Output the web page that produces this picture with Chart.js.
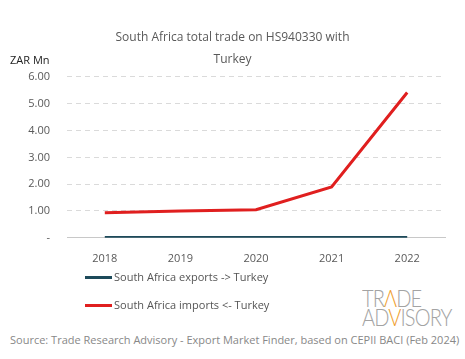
<!DOCTYPE html>
<html>
<head>
<meta charset="utf-8">
<script src="https://cdn.jsdelivr.net/npm/chart.js@4.4.1/dist/chart.umd.min.js"></script>
<style>
  html, body { margin: 0; padding: 0; background: #fff; }
  body { width: 465px; height: 359px; position: relative; overflow: hidden; font-family: "Open Sans", sans-serif; }
  #wrap { position: absolute; left: 0; top: 0; width: 465px; height: 275px; }
  .unit { position: absolute; left: 10px; top: 52px; font-size: 11px; color: #222; }
  .legend { position: absolute; left: 85px; font-size: 11px; color: #555; }
  .legend span.sw { display: inline-block; width: 27px; height: 3px; vertical-align: middle; margin-right: 2px; position: relative; top: -1px; }
  .source { position: absolute; left: 10px; top: 332px; font-size: 11px; color: #888; white-space: nowrap; }
  .logo { position: absolute; left: 362px; top: 289px; font-family: "Lato", sans-serif; font-weight: 300; font-size: 23px; line-height: 19px; color: #a3a3a3; letter-spacing: -1px; transform: scaleX(0.87); transform-origin: left top; }
  .logo b { font-weight: 300; color: #f0a030; }
</style>
</head>
<body>
<div id="wrap"><canvas id="chart"></canvas></div>
<div class="unit">ZAR Mn</div>
<div class="legend" style="top: 269px;"><span class="sw" style="background:#1d4a5a"></span>South Africa exports -&gt; Turkey</div>
<div class="legend" style="top: 297px;"><span class="sw" style="background:#e01f1f"></span>South Africa imports &lt;- Turkey</div>
<div class="logo">TR<b>Λ</b>DE<br>AD<b>V</b>ISORY</div>
<div class="source">Source: Trade Research Advisory - Export Market Finder, based on CEPII BACI (Feb 2024)</div>
<script>
const years = ["2018", "2019", "2020", "2021", "2022"];
const exportsToTurkey = [0.01, 0.01, 0.01, 0.01, 0.01];
const importsFromTurkey = [0.93, 1.0, 1.05, 1.9, 5.42];
const titleLines = ["South Africa total trade on HS940330 with", "Turkey"];

new Chart(document.getElementById("chart"), {
  type: "line",
  data: {
    labels: years,
    datasets: [
      {
        label: "South Africa exports -> Turkey",
        data: exportsToTurkey,
        borderColor: "#1d4a5a",
        borderWidth: 3,
        pointRadius: 0,
        tension: 0,
      },
      {
        label: "South Africa imports <- Turkey",
        data: importsFromTurkey,
        borderColor: "#e01f1f",
        borderWidth: 3,
        pointRadius: 0,
        tension: 0,
      },
    ],
  },
  options: {
    responsive: true,
    maintainAspectRatio: false,
    animation: false,
    layout: { padding: { left: 20, right: 20, top: 27, bottom: 4 } },
    plugins: {
      legend: { display: false },
      tooltip: { enabled: false },
      title: {
        display: true,
        text: titleLines,
        color: "#595959",
        font: { family: "Open Sans", size: 12, weight: "normal", lineHeight: 1.83 },
        padding: { top: 0, bottom: 6 },
      },
    },
    scales: {
      y: {
        min: 0,
        max: 6,
        afterFit: (scale) => { scale.width = 47; },
        ticks: {
          stepSize: 1,
          padding: 17,
          color: "#595959",
          font: { family: "Open Sans", size: 11 },
          callback: (value) => (value === 0 ? "-" : value.toFixed(2)),
        },
        border: { display: false, dash: [5, 4] },
        grid: {
          drawTicks: false,
          color: (ctx) => (ctx.tick.value === 0 ? "rgba(0,0,0,0)" : "#dadada"),
        },
      },
      x: {
        offset: true,
        ticks: {
          padding: 6,
          color: "#595959",
          font: { family: "Open Sans", size: 11 },
        },
        border: { display: true, color: "#c8c8c8", width: 1 },
        grid: { display: false },
      },
    },
  },
});
</script>
</body>
</html>
